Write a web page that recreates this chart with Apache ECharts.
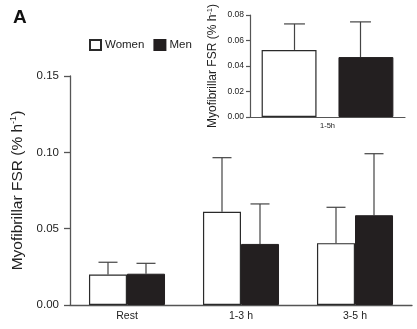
<!DOCTYPE html>
<html><head><meta charset="utf-8">
<script src="https://cdn.jsdelivr.net/npm/echarts@6/dist/echarts.min.js"></script>
<style>html,body{margin:0;padding:0;background:#fff}#c{width:417px;height:329px}</style>
</head><body><div id="c"></div>
<script>
const categories = ['Rest', '1-3 h', '3-5 h'];
const womenMean = [0.0200, 0.0610, 0.0405];
const womenSD = [0.0080, 0.0355, 0.0235];
const menMean = [0.0205, 0.0400, 0.0588];
const menSD = [0.0068, 0.0262, 0.0403];
const yTicksMain = [0, 0.05, 0.10, 0.15];

const insetCategories = ['1-5h'];
const insetWomenMean = [0.0526];
const insetWomenSD = [0.0204];
const insetMenMean = [0.0470];
const insetMenSD = [0.0276];
const yTicksInset = [0, 0.02, 0.04, 0.06, 0.08];

const FONT = 'Liberation Sans, Arial, sans-serif';
const TXT = '#222';
const AX = '#555';

function errData(means, sds) {
  return means.map((m, i) => [i, m, m + sds[i]]);
}
function errSeries(xi, yi, means, sds, offsetFrac, capFrac) {
  return {
    type: 'custom', xAxisIndex: xi, yAxisIndex: yi, z: 1,
    data: errData(means, sds),
    renderItem: function (params, api) {
      const band = api.size([1, 0])[0];
      const base = api.coord([api.value(0), api.value(1)]);
      const top = api.coord([api.value(0), api.value(2)]);
      const x = base[0] + offsetFrac * band;
      const half = capFrac * band / 2;
      const st = {stroke: '#444', lineWidth: 1.2};
      return {type: 'group', children: [
        {type: 'line', shape: {x1: x, y1: base[1], x2: x, y2: top[1]}, style: st},
        {type: 'line', shape: {x1: x - half, y1: top[1], x2: x + half, y2: top[1]}, style: st}
      ]};
    }
  };
}

const chart = echarts.init(document.getElementById('c'));
const womenStyle = {color: '#ffffff', borderColor: '#2a2a2a', borderWidth: 1.2};
const menStyle = {color: '#231f20', borderColor: '#231f20', borderWidth: 1};

const yName = {
  rich: {
    n: {fontSize: 15.5, fontFamily: FONT, color: TXT},
    s: {fontSize: 9, fontFamily: FONT, color: TXT, padding: [0, 0, 8, 0]}
  }
};
const yNameSmall = {
  rich: {
    n: {fontSize: 12, fontFamily: FONT, color: TXT},
    s: {fontSize: 7.5, fontFamily: FONT, color: TXT, padding: [0, 0, 6, 0]}
  }
};

chart.setOption({
  animation: false,
  backgroundColor: '#fff',
  title: {text: 'A', left: 8, top: 3, textStyle: {fontSize: 19, fontWeight: 'bold', fontFamily: FONT, color: '#111'}},
  legend: {
    data: ['Women', 'Men'], left: 84, top: 34, itemWidth: 11, itemHeight: 10, itemGap: 9, icon: 'rect',
    textStyle: {fontSize: 11.5, fontFamily: FONT, color: TXT, padding: [0, 0, 0, -1]}
  },
  grid: [
    {left: 70, right: 5, top: 76, bottom: 24},
    {left: 250, right: 12, top: 15, height: 102}
  ],
  xAxis: [
    {type: 'category', gridIndex: 0, data: categories,
     axisLine: {lineStyle: {color: AX, width: 1.3}}, axisTick: {show: false},
     axisLabel: {fontSize: 10.5, fontFamily: FONT, color: TXT, margin: 6}},
    {type: 'category', gridIndex: 1, data: insetCategories,
     axisLine: {lineStyle: {color: AX, width: 1.2}}, axisTick: {show: false},
     axisLabel: {fontSize: 7.5, fontFamily: FONT, color: TXT, margin: 5}}
  ],
  yAxis: [
    {type: 'value', gridIndex: 0, min: yTicksMain[0], max: yTicksMain[yTicksMain.length - 1], interval: 0.05,
     name: '{n|Myofibrillar FSR (% h}{s|-1}{n|)}', nameLocation: 'middle', nameGap: 43, nameTextStyle: yName,
     axisLine: {show: true, lineStyle: {color: AX, width: 1.3}},
     axisTick: {show: true, length: 6, lineStyle: {color: AX, width: 1.3}},
     splitLine: {show: false},
     axisLabel: {fontSize: 11.5, fontFamily: FONT, color: TXT, margin: 11, formatter: v => v.toFixed(2)}},
    {type: 'value', gridIndex: 1, min: yTicksInset[0], max: yTicksInset[yTicksInset.length - 1], interval: 0.02,
     name: '{n|Myofibrillar FSR (% h}{s|-1}{n|)}', nameLocation: 'middle', nameGap: 30, nameTextStyle: yNameSmall,
     axisLine: {show: true, lineStyle: {color: AX, width: 1.2}},
     axisTick: {show: true, length: 4, lineStyle: {color: AX, width: 1.2}},
     splitLine: {show: false},
     axisLabel: {fontSize: 8.5, fontFamily: FONT, color: TXT, margin: 6, formatter: v => v.toFixed(2)}}
  ],
  series: [
    {name: 'Women', type: 'bar', xAxisIndex: 0, yAxisIndex: 0, data: womenMean, itemStyle: womenStyle,
     barGap: '0%', barCategoryGap: '33.3%', z: 2},
    {name: 'Men', type: 'bar', xAxisIndex: 0, yAxisIndex: 0, data: menMean, itemStyle: menStyle,
     barGap: '0%', barCategoryGap: '33.3%', z: 2},
    {name: 'Women', type: 'bar', xAxisIndex: 1, yAxisIndex: 1, data: insetWomenMean, itemStyle: womenStyle,
     barGap: '40%', barCategoryGap: '15%', z: 2},
    {name: 'Men', type: 'bar', xAxisIndex: 1, yAxisIndex: 1, data: insetMenMean, itemStyle: menStyle,
     barGap: '40%', barCategoryGap: '15%', z: 2},
    errSeries(0, 0, womenMean, womenSD, -1 / 6, 1 / 6),
    errSeries(0, 0, menMean, menSD, 1 / 6, 1 / 6),
    errSeries(1, 1, insetWomenMean, insetWomenSD, -0.2129, 0.135),
    errSeries(1, 1, insetMenMean, insetMenSD, 0.2129, 0.135)
  ]
});
</script></body></html>
